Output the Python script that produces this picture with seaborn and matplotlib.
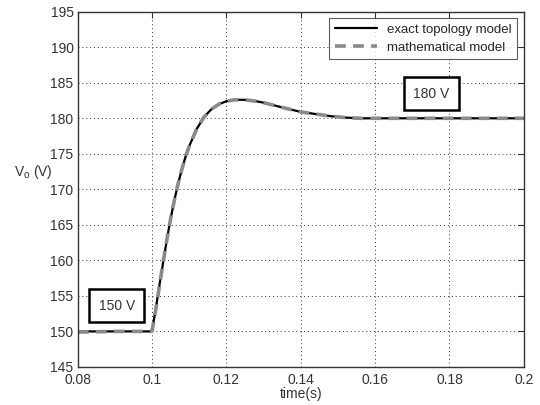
import matplotlib
matplotlib.use("Agg")
import matplotlib.pyplot as plt
import seaborn as sns
import pandas as pd

# values
time_s = [0.08, 0.09, 0.0995, 0.1, 0.101, 0.102, 0.103, 0.104, 0.105, 0.106, 0.107,
          0.108, 0.109, 0.11, 0.112, 0.114, 0.116, 0.118, 0.12, 0.122, 0.125,
          0.128, 0.13, 0.133, 0.136, 0.14, 0.144, 0.148, 0.152, 0.156, 0.16,
          0.17, 0.18, 0.19, 0.2]
exact_v = [150.0, 150.0, 150.0, 150.1, 153.2, 156.6, 159.8, 163.0, 165.9, 168.5, 170.8,
           172.8, 174.6, 176.1, 178.5, 180.2, 181.3, 182.0, 182.4, 182.6, 182.6,
           182.4, 182.2, 181.8, 181.4, 180.9, 180.6, 180.3, 180.1, 180.0, 180.0,
           180.0, 180.0, 180.0, 180.0]
math_v = [149.9, 150.0, 150.0, 150.1, 153.1, 156.5, 159.8, 163.0, 165.9, 168.5, 170.8,
          172.8, 174.6, 176.1, 178.5, 180.2, 181.3, 182.0, 182.4, 182.6, 182.6,
          182.4, 182.2, 181.8, 181.4, 180.9, 180.6, 180.3, 180.1, 180.0, 180.0,
          180.0, 180.0, 180.0, 180.0]
x_ticks = [0.08, 0.1, 0.12, 0.14, 0.16, 0.18, 0.2]
x_tick_labels = ["0.08", "0.1", "0.12", "0.14", "0.16", "0.18", "0.2"]
y_ticks = [145, 150, 155, 160, 165, 170, 175, 180, 185, 190, 195]
notes = [("150 V", 0.0905, 153.6), ("180 V", 0.1752, 183.45)]

df = pd.DataFrame({"t": time_s, "exact": exact_v, "math": math_v})

sns.set_style("white")
plt.rcParams["font.family"] = ["Liberation Sans", "DejaVu Sans"]

fig = plt.figure(figsize=(5.4, 4.05), dpi=100)
ax = fig.add_axes([0.144, 0.094, 0.826, 0.877])

sns.lineplot(data=df, x="t", y="exact", ax=ax, color="black", lw=1.6,
             label="exact topology model")
sns.lineplot(data=df, x="t", y="math", ax=ax, color="#8a8a8a", lw=2.6,
             linestyle=(0, (3, 2)), label="mathematical model")

ax.set_xlim(0.08, 0.2)
ax.set_ylim(145, 195)
ax.set_xticks(x_ticks)
ax.set_xticklabels(x_tick_labels)
ax.set_yticks(y_ticks)
ax.grid(True, color="black", linestyle=(0, (1, 3)), lw=0.7, alpha=0.8)
ax.tick_params(direction="in", top=True, right=True, labelsize=10,
               colors="#333333", length=4)
ax.tick_params(axis="x", pad=4.5)
ax.tick_params(axis="y", pad=3)
for s in ax.spines.values():
    s.set_color("#333333")
    s.set_linewidth(1.0)

ax.set_xlabel("time(s)", fontsize=10, color="#333333", labelpad=0)
ax.set_ylabel(r"V$_\mathregular{o}$ (V)", fontsize=10, color="#333333",
              rotation=0, ha="right", va="center")
ax.yaxis.set_label_coords(-0.056, 0.549)

for txt, x, y in notes:
    ax.text(x, y, txt, ha="center", va="center", fontsize=10, color="#333333",
            bbox=dict(boxstyle="square,pad=0.68", fc="white", ec="black", lw=1.8))

leg = ax.legend(loc="upper right", fontsize=9.5, frameon=True, fancybox=False,
                borderaxespad=0.5, handlelength=3.2, labelspacing=0.45)
leg.get_frame().set_edgecolor("#333333")
leg.get_frame().set_linewidth(0.8)

fig.savefig("out.png", dpi=100)
